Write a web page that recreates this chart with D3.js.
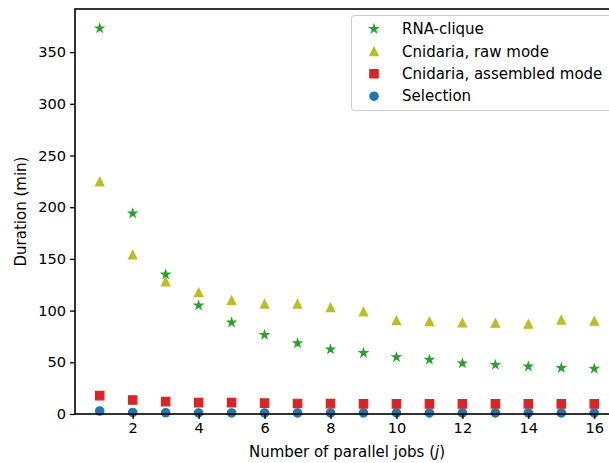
<!DOCTYPE html>
<html>
<head>
<meta charset="utf-8">
<script src="https://cdn.jsdelivr.net/npm/d3@7"></script>
<style>
  body { margin: 0; background: #fff; }
  svg text { font-family: "DejaVu Sans", sans-serif; fill: #000; }
</style>
</head>
<body>
<div id="chart"></div>
<script>
// Data
const jobs = [1, 2, 3, 4, 5, 6, 7, 8, 9, 10, 11, 12, 13, 14, 15, 16];
const rnaClique = [373, 194, 135, 105, 88.5, 76.5, 68.5, 62.5, 59, 55, 52.5, 49, 47.5, 46, 44.5, 43.8];
const cnidariaRaw = [224.6, 154, 128, 117.5, 110, 106.5, 106.5, 103, 99, 90.5, 89.5, 88.2, 88, 87, 91, 90];
const cnidariaAssembled = [17.8, 13.5, 12, 11, 11, 10.5, 10.2, 10, 9.8, 9.8, 9.8, 9.8, 9.8, 9.8, 9.8, 9.8];
const selection = [2.9, 1.5, 1.2, 1, 1, 1, 1, 1, 1, 1, 1, 1, 1, 1, 1, 1];
const seriesNames = ["RNA-clique", "Cnidaria, raw mode", "Cnidaria, assembled mode", "Selection"];
const xTicks = [2, 4, 6, 8, 10, 12, 14, 16];
const yTicks = [0, 50, 100, 150, 200, 250, 300, 350];

const width = 609;
const height = 463;
const margin = { top: 9, right: -10, bottom: 49, left: 75 };

const x = d3.scaleLinear().domain([0.25, 16.75]).range([margin.left, width - margin.right]);
const y = d3.scaleLinear().domain([0, 391.7]).range([height - margin.bottom, margin.top]);

const svg = d3.select("#chart").append("svg")
    .attr("width", width)
    .attr("height", height);

// marker shapes (half-size r in px)
const r = 4.2;
const shapes = {
    star: d3.symbol().type(d3.symbolStar).size(r * r / 0.8908130915292852)(),
    triangle: `M0,${-r}L${r},${r}L${-r},${r}Z`,
    square: `M${-r},${-r}H${r}V${r}H${-r}Z`,
    circle: d3.symbol().type(d3.symbolCircle).size(Math.PI * r * r)()
};

const series = [
    { name: seriesNames[3], values: selection, color: "#1f77b4", shape: "circle" },
    { name: seriesNames[2], values: cnidariaAssembled, color: "#d62728", shape: "square" },
    { name: seriesNames[1], values: cnidariaRaw, color: "#bcbd22", shape: "triangle" },
    { name: seriesNames[0], values: rnaClique, color: "#2ca02c", shape: "star" }
];

// scatter points
series.forEach(s => {
    svg.append("g").selectAll("path")
        .data(jobs.map((j, i) => [j, s.values[i]]))
        .enter()
        .append("path")
        .attr("d", shapes[s.shape])
        .attr("transform", d => `translate(${x(d[0])},${y(d[1])})`)
        .attr("fill", s.color)
        .attr("stroke", s.color)
        .attr("stroke-width", 1.2)
        .attr("stroke-linejoin", "miter");
});

// axes
const xAxis = svg.append("g")
    .attr("transform", `translate(0,${y(0)})`)
    .call(d3.axisBottom(x).tickValues(xTicks).tickSize(5).tickPadding(4));
const yAxis = svg.append("g")
    .attr("transform", `translate(${margin.left},0)`)
    .call(d3.axisLeft(y).tickValues(yTicks).tickSize(5).tickPadding(4));

[xAxis, yAxis].forEach(a => {
    a.select(".domain").remove();
    a.selectAll("line").attr("stroke", "#000").attr("stroke-width", 1.3);
    a.selectAll("text").attr("font-size", "14.6px").attr("font-family", "DejaVu Sans");
});

// frame (spines)
svg.append("rect")
    .attr("x", margin.left)
    .attr("y", margin.top)
    .attr("width", x.range()[1] - margin.left)
    .attr("height", y(0) - margin.top)
    .attr("fill", "none")
    .attr("stroke", "#000")
    .attr("stroke-width", 1.6);

// axis labels
svg.append("text")
    .attr("x", (margin.left + x.range()[1]) / 2)
    .attr("y", 456.5)
    .attr("text-anchor", "middle")
    .attr("font-size", "15px")
    .html('Number of parallel jobs (<tspan font-style="italic">j</tspan>)');

svg.append("text")
    .attr("transform", `translate(25.5,${(margin.top + y(0)) / 2}) rotate(-90)`)
    .attr("text-anchor", "middle")
    .attr("font-size", "15px")
    .text("Duration (min)");

// legend
const legend = svg.append("g");
legend.append("rect")
    .attr("x", 351.5)
    .attr("y", 15.5)
    .attr("width", 261)
    .attr("height", 95)
    .attr("rx", 3)
    .attr("fill", "#fff")
    .attr("fill-opacity", 0.8)
    .attr("stroke", "#cccccc");

const legendItems = series.slice().reverse();
legendItems.forEach((s, i) => {
    const ly = 29 + i * 22.4;
    legend.append("path")
        .attr("d", shapes[s.shape])
        .attr("transform", `translate(374,${ly})`)
        .attr("fill", s.color)
        .attr("stroke", s.color)
        .attr("stroke-width", 1.2);
    legend.append("text")
        .attr("x", 402)
        .attr("y", ly)
        .attr("dy", "0.35em")
        .attr("font-size", "15px")
        .text(s.name);
});
</script>
</body>
</html>
